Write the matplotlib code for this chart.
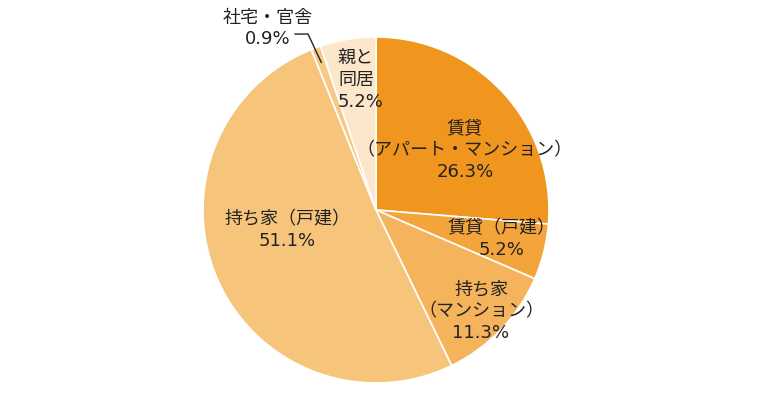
import matplotlib
matplotlib.use("Agg")
import matplotlib.pyplot as plt
import numpy as np

plt.rcParams['font.family'] = ['DejaVu Sans', 'Noto Sans CJK JP']

categories = ["賃貸\n（アパート・マンション）", "賃貸（戸建）", "持ち家\n（マンション）",
              "持ち家（戸建）", "社宅・官舎", "親と\n同居"]
values = [26.3, 5.2, 11.3, 51.1, 0.9, 5.2]
value_labels = ["26.3%", "5.2%", "11.3%", "51.1%", "0.9%", "5.2%"]
colors = ["#F0961E", "#F3A43B", "#F5B45C", "#F7C47C", "#F8C985", "#FDE7CA"]

# label placement (data coords, pie radius = 1)
label_pos = [(0.514, 0.347), (0.728, -0.168), (0.607, -0.584),
             (-0.514, -0.116), (-0.624, 1.049), (-0.220, 0.751)]
label_ha = ["center", "center", "center", "center", "center", "left"]

fig = plt.figure(figsize=(7.6, 3.93), dpi=100)
R = 173
cx, cy = 376, 210
ax = fig.add_axes([(cx - R) / 760, (393 - cy - R) / 393, 2 * R / 760, 2 * R / 393])
wedges, _ = ax.pie(values, startangle=90, counterclock=False, colors=colors,
                   radius=1.0, wedgeprops=dict(edgecolor="white", linewidth=1.2))
ax.set_xlim(-1, 1)
ax.set_ylim(-1, 1)
ax.set_aspect("equal")
ax.axis("off")

for i, (cat, vl) in enumerate(zip(categories, value_labels)):
    x, y = label_pos[i]
    ax.text(x, y, cat + "\n" + vl, ha=label_ha[i], va="center", fontsize=13,
            color="#222222", linespacing=1.27, multialignment=label_ha[i],
            clip_on=False)

# leader line for 社宅・官舎
w = wedges[4]
mid = np.deg2rad((w.theta1 + w.theta2) / 2)
end = (0.91 * np.cos(mid), 0.91 * np.sin(mid))
ax.plot([-0.468, -0.393, end[0]], [1.017, 1.017, end[1]], color="#222222",
        linewidth=1.0, clip_on=False)

fig.savefig("out.png", dpi=100)
